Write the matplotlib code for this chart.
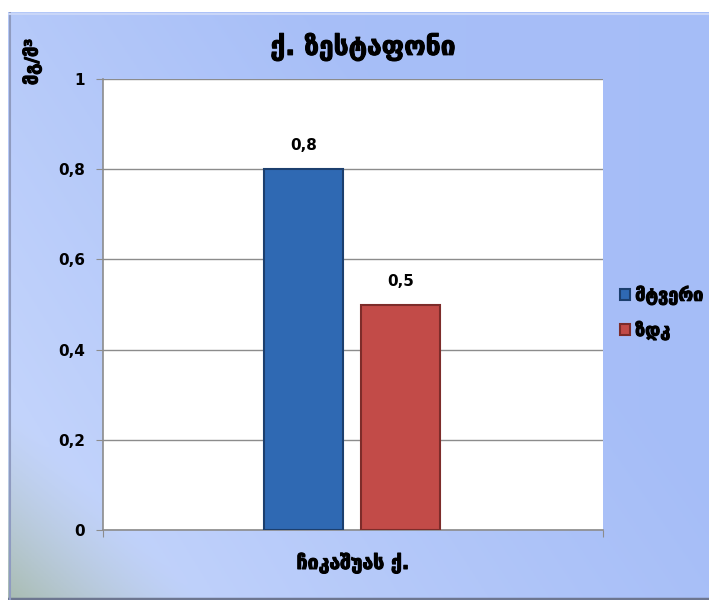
import matplotlib
matplotlib.use("Agg")
import matplotlib.pyplot as plt
import matplotlib.patheffects as pe
import numpy as np

# chart data
title = "ქ. ზესტაფონი"
ylabel = "მგ/მ³"
category = "ჩიკაშუას ქ."
series = ["მტვერი", "ზდკ"]
values = [0.8, 0.5]
labels = ["0,8", "0,5"]
colors = ["#2f69b3", "#c24b48"]
edges = ["#1c3f6e", "#7d2c2a"]
yticks = [0, 0.2, 0.4, 0.6, 0.8, 1]
ytick_labels = ["0", "0,2", "0,4", "0,6", "0,8", "1"]

plt.rcParams['font.family'] = ['DejaVu Sans']
bold = [pe.withStroke(linewidth=0.8, foreground="black")]

fig = plt.figure(figsize=(7.09, 6.13), dpi=100)
fig.patch.set_facecolor("white")

# gradient background of the chart area
bg = fig.add_axes([8/709, 13/613, 701/709, 588/613])
h, w = 200, 240
yy, xx = np.mgrid[0:1:h*1j, 0:1:w*1j]
top = np.array([0.66, 0.75, 0.97])
right = np.array([0.62, 0.72, 0.97])
light = np.array([0.79, 0.85, 0.99])
t = np.clip(1.0 - (xx * 0.9 + (1 - yy) * 0.6), 0, 1)[..., None]
img = top * (1 - t) + light * t
img = img * (1 - xx[..., None] * 0.25) + right * xx[..., None] * 0.25
# greenish bottom-left corner, soft diagonal
d = (xx * 1.0 + (1 - yy) * 0.85) / 0.28
g = np.clip(1 - d, 0, 1)[..., None] ** 1.3 * 0.75
img = img * (1 - g) + np.array([0.62, 0.70, 0.60]) * g
bg.imshow(img, aspect="auto", extent=[0, 1, 0, 1], origin="upper")
bg.set_xlim(0, 1)
bg.set_ylim(0, 1)
for s in bg.spines.values():
    s.set_visible(False)
bg.plot([0, 1], [0.002, 0.002], color="#6d7690", lw=2.5)
bg.plot([0.003, 0.003], [0, 1], color="#8f9bc0", lw=1.5)
bg.plot([0, 1], [0.997, 0.997], color="#c9d6f8", lw=1.5)
bg.set_xticks([])
bg.set_yticks([])

ax = fig.add_axes([103/709, 83/613, 500/709, 451/613])
ax.set_facecolor("white")
ax.set_xlim(-0.5, 0.5)
ax.set_ylim(0, 1)

pos = [-0.099, 0.095]
bars = ax.bar(pos, values, width=0.158, color=colors, edgecolor=edges,
              linewidth=1.5, zorder=3)
for x, v, lab in zip(pos, values, labels):
    ax.text(x, v + 0.035, lab, ha="center", va="bottom", fontsize=11,
            fontweight="bold")

ax.set_yticks(yticks)
ax.set_yticklabels(ytick_labels, fontsize=11, fontweight="bold")
ax.yaxis.grid(True, color="#8c8c8c", lw=1, zorder=0)
ax.tick_params(axis="y", length=5, color="#8c8c8c", pad=8)
ax.set_xticks([-0.5, 0.5])
ax.set_xticklabels(["", ""])
ax.tick_params(axis="x", length=5, color="#8c8c8c", direction="out")
for s in ["top", "right"]:
    ax.spines[s].set_visible(False)
for s in ["left", "bottom"]:
    ax.spines[s].set_color("#8c8c8c")
    ax.spines[s].set_linewidth(1.2)

fig.text(363/709, 1 - 47/613, title, ha="center", va="center",
         fontsize=19, fontweight="bold", path_effects=bold)
fig.text(32/709, 1 - 62/613, ylabel, ha="center", va="center",
         rotation=90, fontsize=13, fontweight="bold", path_effects=bold)
fig.text(353/709, 1 - 563/613, category, ha="center", va="center",
         fontsize=14, fontweight="bold", path_effects=bold)

leg = fig.legend(handles=list(bars), labels=series, loc="center left",
                 bbox_to_anchor=(609/709, 1 - 313/613), frameon=False,
                 prop={"weight": "bold", "size": 13},
                 handlelength=0.55, handleheight=0.55, handletextpad=0.3,
                 labelspacing=0.9, borderaxespad=0.2)
for txt in leg.get_texts():
    txt.set_path_effects(bold)

fig.savefig("out.png", dpi=100)
